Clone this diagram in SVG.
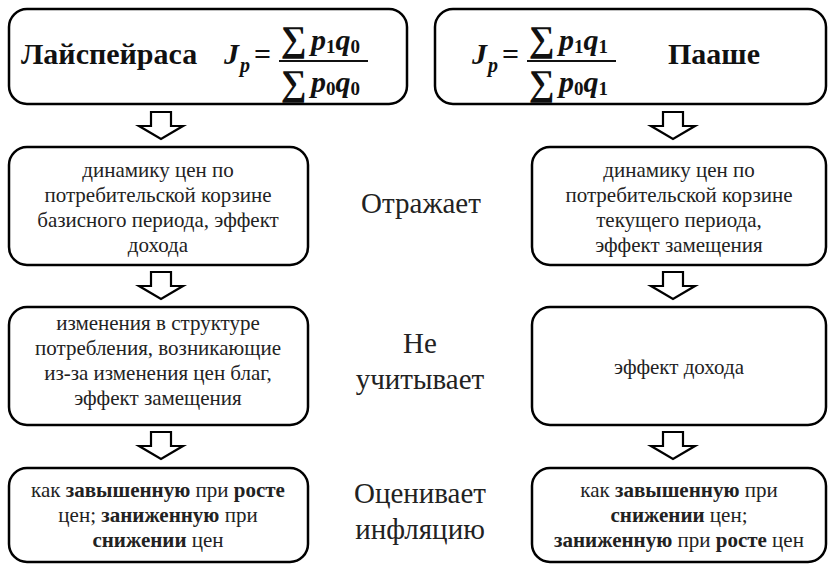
<svg xmlns="http://www.w3.org/2000/svg" width="829" height="565" viewBox="0 0 829 565" font-family="Liberation Serif, DejaVu Serif, serif">
<style>
.box{fill:#fff;stroke:#000;stroke-width:2.5}
.arr{fill:#fff;stroke:#000;stroke-width:2.2;stroke-linejoin:miter}
.t{font-size:21px;fill:#222;text-anchor:middle}
.lbl{font-size:29px;fill:#222;text-anchor:middle}
.b{font-weight:bold}
.h{font-size:30px;font-weight:bold;fill:#111}
.m{font-size:30px;font-weight:bold;font-style:italic;fill:#111}
.s{font-size:19px;font-style:normal}
.si{font-size:20px}
.sum{font-size:36px;font-weight:bold;fill:#111}
.bar{stroke:#111;stroke-width:2}
</style>
<rect width="829" height="565" fill="#fff"/>
<g id="laspeyres-head">
<rect class="box" x="9" y="9" width="398" height="95" rx="18"/>
<text class="h" x="21" y="64">Лайспейраса</text>
<text class="m" x="224" y="64">J<tspan class="si" dx="1" dy="8">p</tspan></text>
<text class="h" x="254" y="64">=</text>
<text class="sum" x="281" y="51">∑</text>
<text class="m" x="311" y="50">p<tspan class="s" dy="3">1</tspan><tspan dy="-3">q</tspan><tspan class="s" dy="3">0</tspan></text>
<line class="bar" x1="279" y1="61" x2="368" y2="61"/>
<text class="sum" x="281" y="95">∑</text>
<text class="m" x="311" y="92">p<tspan class="s" dy="3">0</tspan><tspan dy="-3">q</tspan><tspan class="s" dy="3">0</tspan></text>
</g>
<g id="paasche-head">
<rect class="box" x="435" y="9" width="391" height="95" rx="18"/>
<text class="m" x="472" y="64">J<tspan class="si" dx="1" dy="8">p</tspan></text>
<text class="h" x="502" y="64">=</text>
<text class="sum" x="529" y="51">∑</text>
<text class="m" x="559" y="50">p<tspan class="s" dy="3">1</tspan><tspan dy="-3">q</tspan><tspan class="s" dy="3">1</tspan></text>
<line class="bar" x1="527" y1="61" x2="616" y2="61"/>
<text class="sum" x="529" y="95">∑</text>
<text class="m" x="559" y="92">p<tspan class="s" dy="3">0</tspan><tspan dy="-3">q</tspan><tspan class="s" dy="3">1</tspan></text>
<text class="h" x="668" y="64">Пааше</text>
</g>
<g id="connectors">
<path class="arr" d="M151,112 H171 V126 H183 L161,139 L139,126 H151 Z"/>
<path class="arr" d="M151,272 H171 V286 H183 L161,299 L139,286 H151 Z"/>
<path class="arr" d="M151,432 H171 V446 H183 L161,459 L139,446 H151 Z"/>
<path class="arr" d="M663,112 H683 V126 H695 L673,139 L651,126 H663 Z"/>
<path class="arr" d="M663,272 H683 V286 H695 L673,299 L651,286 H663 Z"/>
<path class="arr" d="M663,432 H683 V446 H695 L673,459 L651,446 H663 Z"/>
</g>
<g id="l-reflects">
<rect class="box" x="9" y="147" width="299" height="118" rx="18"/>
<text class="t" x="158" y="177">динамику цен по</text>
<text class="t" x="158" y="202">потребительской корзине</text>
<text class="t" x="158" y="227">базисного периода, эффект</text>
<text class="t" x="158" y="252">дохода</text>
</g>
<g id="l-ignores">
<rect class="box" x="9" y="307" width="299" height="118" rx="18"/>
<text class="t" x="158" y="330">изменения в структуре</text>
<text class="t" x="158" y="355">потребления, возникающие</text>
<text class="t" x="158" y="380">из-за изменения цен благ,</text>
<text class="t" x="158" y="405">эффект замещения</text>
</g>
<g id="l-estimates">
<rect class="box" x="9" y="468" width="299" height="94" rx="18"/>
<text class="t" x="158" y="497">как <tspan class="b">завышенную</tspan> при <tspan class="b">росте</tspan></text>
<text class="t" x="158" y="522">цен; <tspan class="b">заниженную</tspan> при</text>
<text class="t" x="158" y="547"><tspan class="b">снижении</tspan> цен</text>
</g>
<g id="r-reflects">
<rect class="box" x="532" y="147" width="294" height="118" rx="18"/>
<text class="t" x="679" y="177">динамику цен по</text>
<text class="t" x="679" y="202">потребительской корзине</text>
<text class="t" x="679" y="227">текущего периода,</text>
<text class="t" x="679" y="252">эффект замещения</text>
</g>
<g id="r-ignores">
<rect class="box" x="532" y="307" width="294" height="118" rx="18"/>
<text class="t" x="679" y="374">эффект дохода</text>
</g>
<g id="r-estimates">
<rect class="box" x="532" y="468" width="294" height="94" rx="18"/>
<text class="t" x="679" y="497">как <tspan class="b">завышенную</tspan> при</text>
<text class="t" x="679" y="522"><tspan class="b">снижении</tspan> цен;</text>
<text class="t" x="679" y="547"><tspan class="b">заниженную</tspan> при <tspan class="b">росте</tspan> цен</text>
</g>
<g id="labels">
<text class="lbl" x="421" y="213">Отражает</text>
<text class="lbl" x="420" y="353">Не</text>
<text class="lbl" x="420" y="389">учитывает</text>
<text class="lbl" x="420" y="503">Оценивает</text>
<text class="lbl" x="420" y="539">инфляцию</text>
</g>
</svg>
